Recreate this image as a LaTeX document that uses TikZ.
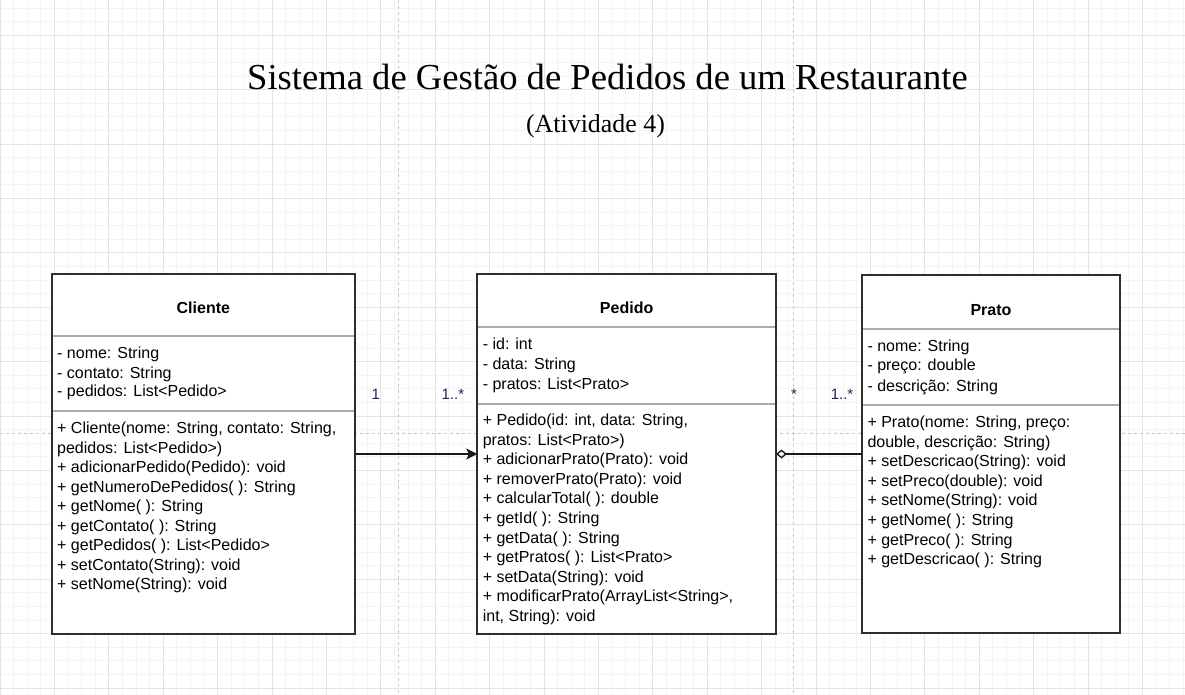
\documentclass[tikz,border=0pt]{standalone}
\usepackage{fontspec}
\setmainfont{Liberation Sans}
\newfontfamily\titlefont{Liberation Serif}
\usepackage{xcolor}
\usepackage{tikz}
\usetikzlibrary{arrows.meta, positioning, calc}

\definecolor{gridmajor}{HTML}{E4E4E4}
\definecolor{gridminor}{HTML}{F4F4F4}
\definecolor{breakgray}{HTML}{C8C8C8}
\definecolor{boxborder}{HTML}{2E2E2E}
\definecolor{sepgray}{HTML}{ABABAB}
\definecolor{linecolor}{HTML}{1A1A1A}
\definecolor{multcolor}{HTML}{20205A}

\begin{document}
\begin{tikzpicture}[
    x=1pt, y=-1pt,
    >=Stealth,
    every node/.style={inner sep=0pt, outer sep=0pt},
    classbox/.style={rectangle, draw=boxborder, line width=1.8pt, fill=white},
    sepline/.style={draw=sepgray, line width=1.6pt, shorten <=0.9pt, shorten >=0.9pt},
    classname/.style={font=\bfseries\fontsize{16}{19.5}\selectfont, anchor=base},
    member/.style={font=\fontsize{16}{19.5}\selectfont, anchor=base west},
    mult/.style={font=\fontsize{15}{18}\selectfont, text=multcolor, anchor=base},
    assoc/.style={draw=linecolor, line width=1.4pt},
    titletext/.style={font=\titlefont\fontsize{36.6}{40}\selectfont, anchor=base},
    subtitletext/.style={font=\titlefont\fontsize{25.9}{30}\selectfont, anchor=base},
    minorgrid/.style={draw=gridminor, line width=1pt},
    majorgrid/.style={draw=gridmajor, line width=1pt},
    pagebreak/.style={draw=breakgray, line width=1pt, dash pattern=on 3pt off 3pt}
]

% ============================================================
% CANVAS: page, grid and page breaks
% ============================================================
\fill[white] (0,0) rectangle (1185,694);
\useasboundingbox (0,0) rectangle (1185,694);
\clip (0,0) rectangle (1185,694);

\begin{scope}[yshift=-8.1pt]
    \draw[minorgrid, step=13.6pt] (0,720) grid (1185,-20);
\end{scope}
\begin{scope}[yshift=-35.3pt]
    \draw[majorgrid, step=54.4pt] (0,720) grid (1185,-60);
\end{scope}

\draw[pagebreak] (398,0) -- (398,694);
\draw[pagebreak] (793,0) -- (793,694);
\draw[pagebreak] (0,433) -- (1185,433);

% ============================================================
% TITLE
% ============================================================
\node[titletext] (title) at (607.5,89.3) {Sistema de Gestão de Pedidos de um Restaurante};
\node[subtitletext] (subtitle) at (595.5,132) {(Atividade 4)};

% ============================================================
% 1. CLIENTE
% ============================================================
\node[classbox, minimum width=303.3pt, minimum height=360pt] (cliente) at (203.35,454) {};
\draw[sepline] ([yshift=-62pt]cliente.north west) -- ([yshift=-62pt]cliente.north east);
\draw[sepline] ([yshift=-137pt]cliente.north west) -- ([yshift=-137pt]cliente.north east);

\node[classname] (cl-name) at (203.35,313.3) {Cliente};

\node[member] (cl-a1) at (57.2,358)   {- nome: String};
\node[member] (cl-a2) at (57.2,378)   {- contato: String};
\node[member] (cl-a3) at (57.2,396)   {- pedidos: List<Pedido>};

\node[member] (cl-m1) at (57.2,433.5) {+ Cliente(nome: String, contato: String,};
\node[member] (cl-m2) at (57.2,453)   {pedidos: List<Pedido>)};
\node[member] (cl-m3) at (57.2,472.5) {+ adicionarPedido(Pedido): void};
\node[member] (cl-m4) at (57.2,492)   {+ getNumeroDePedidos( ): String};
\node[member] (cl-m5) at (57.2,511.5) {+ getNome( ): String};
\node[member] (cl-m6) at (57.2,531)   {+ getContato( ): String};
\node[member] (cl-m7) at (57.2,550.5) {+ getPedidos( ): List<Pedido>};
\node[member] (cl-m8) at (57.2,570)   {+ setContato(String): void};
\node[member] (cl-m9) at (57.2,589.5) {+ setNome(String): void};

% ============================================================
% 2. PEDIDO
% ============================================================
\node[classbox, minimum width=298.7pt, minimum height=360pt, right=122.3pt of cliente] (pedido) {};
\draw[sepline] ([yshift=-52.7pt]pedido.north west) -- ([yshift=-52.7pt]pedido.north east);
\draw[sepline] ([yshift=-130pt]pedido.north west) -- ([yshift=-130pt]pedido.north east);

\node[classname] (pe-name) at (626.65,313.3) {Pedido};

\node[member] (pe-a1) at (482.8,349.5) {- id: int};
\node[member] (pe-a2) at (482.8,369.2) {- data: String};
\node[member] (pe-a3) at (482.8,389.2) {- pratos: List<Prato>};

\node[member] (pe-m1)  at (482.8,425.8) {+ Pedido(id: int, data: String,};
\node[member] (pe-m2)  at (482.8,445.3) {pratos: List<Prato>)};
\node[member] (pe-m3)  at (482.8,464.9) {+ adicionarPrato(Prato): void};
\node[member] (pe-m4)  at (482.8,484.4) {+ removerPrato(Prato): void};
\node[member] (pe-m5)  at (482.8,503.9) {+ calcularTotal( ): double};
\node[member] (pe-m6)  at (482.8,523.5) {+ getId( ): String};
\node[member] (pe-m7)  at (482.8,543)   {+ getData( ): String};
\node[member] (pe-m8)  at (482.8,562.6) {+ getPratos( ): List<Prato>};
\node[member] (pe-m9)  at (482.8,582.1) {+ setData(String): void};
\node[member] (pe-m10) at (482.8,601.7) {+ modificarPrato(ArrayList<String>,};
\node[member] (pe-m11) at (482.8,621.2) {int, String): void};

% ============================================================
% 3. PRATO
% ============================================================
\node[classbox, minimum width=258pt, minimum height=358.3pt, right=86pt of pedido] (prato) {};
\draw[sepline] ([yshift=-54.2pt]prato.north west) -- ([yshift=-54.2pt]prato.north east);
\draw[sepline] ([yshift=-130.4pt]prato.north west) -- ([yshift=-130.4pt]prato.north east);

\node[classname] (pr-name) at (991,315) {Prato};

\node[member] (pr-a1) at (867.5,351.2) {- nome: String};
\node[member] (pr-a2) at (867.5,370.2) {- preço: double};
\node[member] (pr-a3) at (867.5,391.2) {- descrição: String};

\node[member] (pr-m1) at (867.5,427.8) {+ Prato(nome: String, preço:};
\node[member] (pr-m2) at (867.5,447.3) {double, descrição: String)};
\node[member] (pr-m3) at (867.5,466.9) {+ setDescricao(String): void};
\node[member] (pr-m4) at (867.5,486.4) {+ setPreco(double): void};
\node[member] (pr-m5) at (867.5,505.9) {+ setNome(String): void};
\node[member] (pr-m6) at (867.5,525.5) {+ getNome( ): String};
\node[member] (pr-m7) at (867.5,545)   {+ getPreco( ): String};
\node[member] (pr-m8) at (867.5,564.5) {+ getDescricao( ): String};

% ============================================================
% RELATIONSHIPS
% ============================================================
\draw[assoc, -{Stealth[length=11pt, width=11pt, inset=2.5pt]}] (cliente) -- (pedido);
\draw[assoc, {Diamond[open, fill=white, length=11pt, width=9pt]}-] (pedido) -- (prato);

\node[mult] (mult-cl)  at (375.7,399.3) {1};
\node[mult] (mult-pe1) at (452.9,399)   {1..*};
\node[mult] (mult-pe2) at (794,399)     {*};
\node[mult] (mult-pr)  at (842,399.3)   {1..*};

\end{tikzpicture}
\end{document}
